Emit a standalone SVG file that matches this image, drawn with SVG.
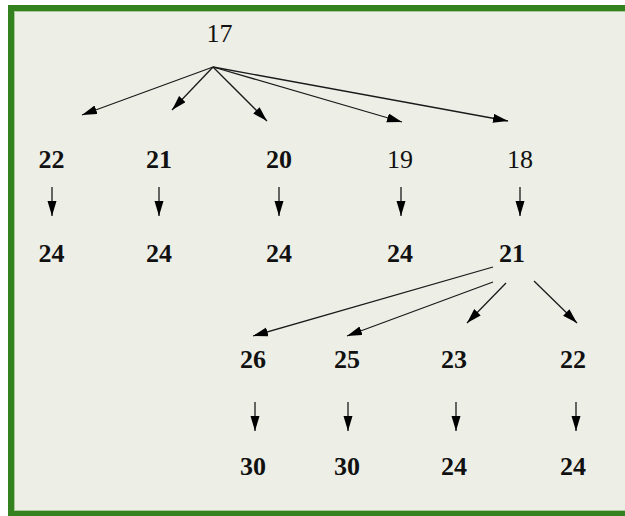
<svg xmlns="http://www.w3.org/2000/svg" width="625" height="516" viewBox="0 0 625 516">
<style>
text{font-family:"Liberation Serif","Times New Roman",serif;font-size:26px;text-anchor:middle;fill:#111;font-weight:bold}
text.r{font-weight:normal}
.c line{stroke:#1a1a1a;stroke-width:1.3;fill:none}
</style>
<defs>
<marker id="ah" markerUnits="userSpaceOnUse" markerWidth="16" markerHeight="10" refX="15" refY="4.5" orient="auto">
<path d="M0,0 L15,4.5 L0,9 Z" fill="#000"/>
</marker>
</defs>
<rect x="0" y="0" width="625" height="516" fill="#fff"/>
<rect x="8" y="5" width="625" height="520" fill="#33821f"/>
<rect x="14" y="11" width="620" height="500" fill="#a9c99b"/>
<rect x="15" y="12" width="620" height="498" fill="#edefe7"/>
<g class="c" marker-end="url(#ah)">
<line x1="213" y1="67" x2="82" y2="115" marker-end="url(#ah)"/>
<line x1="213" y1="67" x2="172" y2="110" marker-end="url(#ah)"/>
<line x1="213" y1="67" x2="267" y2="121" marker-end="url(#ah)"/>
<line x1="213" y1="67" x2="402" y2="122" marker-end="url(#ah)"/>
<line x1="213" y1="67" x2="508" y2="121" marker-end="url(#ah)"/>
<line x1="52" y1="187" x2="52" y2="216" marker-end="url(#ah)"/>
<line x1="159" y1="187" x2="159" y2="216" marker-end="url(#ah)"/>
<line x1="279" y1="187" x2="279" y2="216" marker-end="url(#ah)"/>
<line x1="401" y1="187" x2="401" y2="216" marker-end="url(#ah)"/>
<line x1="520" y1="187" x2="520" y2="216" marker-end="url(#ah)"/>
<line x1="493" y1="267" x2="253" y2="336" marker-end="url(#ah)"/>
<line x1="493" y1="282" x2="347" y2="336" marker-end="url(#ah)"/>
<line x1="506" y1="283" x2="467" y2="323" marker-end="url(#ah)"/>
<line x1="534" y1="281" x2="577" y2="323" marker-end="url(#ah)"/>
<line x1="255" y1="402" x2="255" y2="431" marker-end="url(#ah)"/>
<line x1="348" y1="402" x2="348" y2="431" marker-end="url(#ah)"/>
<line x1="456" y1="402" x2="456" y2="431" marker-end="url(#ah)"/>
<line x1="576" y1="402" x2="576" y2="431" marker-end="url(#ah)"/>
</g>
<g id="n17"><text class="r" x="219.5" y="42">17</text></g>
<g id="n22a"><text x="51.5" y="168">22</text></g>
<g id="n21a"><text x="159" y="168">21</text></g>
<g id="n20"><text x="279" y="168">20</text></g>
<g id="n19"><text class="r" x="400" y="168">19</text></g>
<g id="n18"><text class="r" x="520" y="168">18</text></g>
<g id="n24a"><text x="51.5" y="262">24</text></g>
<g id="n24b"><text x="159" y="262">24</text></g>
<g id="n24c"><text x="279" y="262">24</text></g>
<g id="n24d"><text x="400" y="262">24</text></g>
<g id="n21b"><text x="512" y="262">21</text></g>
<g id="n26"><text x="253" y="368">26</text></g>
<g id="n25"><text x="347" y="368">25</text></g>
<g id="n23"><text x="454" y="368">23</text></g>
<g id="n22b"><text x="573" y="368">22</text></g>
<g id="n30a"><text x="253" y="475">30</text></g>
<g id="n30b"><text x="347" y="475">30</text></g>
<g id="n24e"><text x="454" y="475">24</text></g>
<g id="n24f"><text x="573" y="475">24</text></g>
</svg>
